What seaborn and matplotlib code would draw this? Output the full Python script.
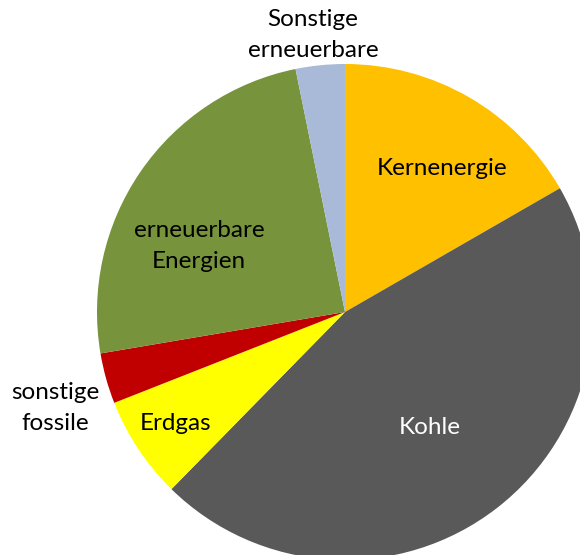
import matplotlib
matplotlib.use("Agg")
import matplotlib.pyplot as plt
import seaborn as sns

sns.set_theme(style="white")
plt.rcParams['font.family'] = ['Lato', 'DejaVu Sans']

categories = ["Kernenergie", "Kohle", "Erdgas", "sonstige fossile",
              "erneuerbare Energien", "Sonstige erneuerbare"]
values = [16.7, 45.7, 6.7, 3.3, 24.5, 3.2]
labels = ["Kernenergie", "Kohle", "Erdgas", "sonstige\nfossile",
          "erneuerbare\nEnergien", "Sonstige\nerneuerbare"]
colors = ["#FFC000", "#595959", "#FFFF00", "#C00000", "#77933C", "#A9BAD8"]

fig = plt.figure(figsize=(5.8, 5.55), dpi=100)
ax = fig.add_axes([0, 0, 1, 1])
wedges, texts = ax.pie(values, colors=colors, startangle=90, counterclock=False,
                       radius=1.0, center=(0, 0),
                       wedgeprops=dict(linewidth=0, edgecolor='none'))
ax.set_xlim(-345/248, (580-345)/248)
ax.set_ylim(-(555-312)/248, 312/248)
ax.set_aspect('equal')
ax.axis('off')

def px(x, y):
    return ((x-345)/248, (312-y)/248)

label_pos = [(442, 169), (430, 427), (176, 423), (55, 408), (199, 246), (313, 35)]
text_colors = ["black", "white", "black", "black", "black", "black"]
for lab, pos, tc in zip(labels, label_pos, text_colors):
    x, y = px(*pos)
    ax.text(x, y, lab, ha='center', va='center', fontsize=17.5, color=tc,
            linespacing=1.55)

fig.savefig("out.png", dpi=100)
